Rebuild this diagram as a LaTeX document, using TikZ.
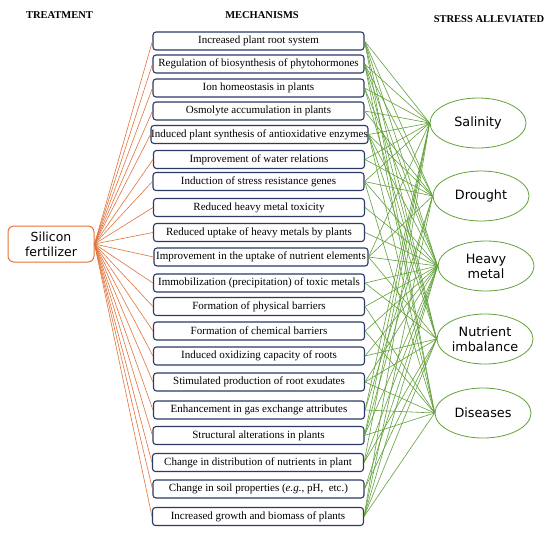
\documentclass[tikz,border=0pt]{standalone}
\usepackage{fontspec}
\setmainfont{Liberation Serif}
\newfontfamily\dejavu{DejaVu Sans}
\usetikzlibrary{shapes.geometric}
\definecolor{navy}{HTML}{2B3A67}
\definecolor{orng}{HTML}{E2733A}
\definecolor{grn}{HTML}{62A13A}
\begin{document}
\begin{tikzpicture}[x=1pt,y=-1pt,
  mech/.style={draw=navy, line width=1.1pt, rounded corners=3pt, minimum width=211pt,
    minimum height=18pt, inner sep=0pt, fill=white, font=\fontsize{11}{13}\selectfont},
  stress/.style={ellipse, draw=grn, line width=0.8pt, minimum width=96pt, minimum height=50pt,
    inner sep=0pt, align=center, font=\dejavu\fontsize{12.8}{15}\selectfont},
  treat/.style={draw=orng, line width=1pt, rounded corners=6pt, minimum width=86pt,
    minimum height=36pt, inner sep=0pt, align=center, font=\dejavu\fontsize{12.5}{15}\selectfont},
  head/.style={font=\bfseries\fontsize{10.5}{12}\selectfont},
  olink/.style={draw=orng, line width=0.6pt},
  glink/.style={draw=grn, line width=0.6pt}]
\useasboundingbox (0,0) rectangle (559,538);

\node[head] (h1) at (59.5,15) {TREATMENT};
\node[head] (h2) at (262,15) {MECHANISMS};
\node[head] (h3) at (489,19) {STRESS ALLEVIATED};

\node[treat] (sf) at (51,244) {Silicon\\fertilizer};

\node[mech] (m1) at (258.5,41) {Increased plant root system};
\node[mech] (m2) at (258.5,64) {Regulation of biosynthesis of phytohormones};
\node[mech] (m3) at (258.5,88) {Ion homeostasis in plants};
\node[mech] (m4) at (258.5,111) {Osmolyte accumulation in plants};
\node[mech, minimum width=217pt] (m5) at (259.5,134.5) {Induced plant synthesis of antioxidative enzymes};
\node[mech] (m6) at (259,159.5) {Improvement of water relations};
\node[mech] (m7) at (258.5,181.5) {Induction of stress resistance genes};
\node[mech] (m8) at (259,207.5) {Reduced heavy metal toxicity};
\node[mech] (m9) at (259,232.5) {Reduced uptake of heavy metals by plants};
\node[mech, minimum width=214pt] (m10) at (261,257) {Improvement in the uptake of nutrient elements};
\node[mech] (m11) at (259,283) {Immobilization (precipitation) of toxic metals};
\node[mech] (m12) at (259,306.5) {Formation of physical barriers};
\node[mech] (m13) at (259,331) {Formation of chemical barriers};
\node[mech] (m14) at (259,356) {Induced oxidizing capacity of roots};
\node[mech] (m15) at (259,382) {Stimulated production of root exudates};
\node[mech] (m16) at (259,410) {Enhancement in gas exchange attributes};
\node[mech] (m17) at (258.5,435.5) {Structural alterations in plants};
\node[mech] (m18) at (258,462.5) {Change in distribution of nutrients in plant};
\node[mech] (m19) at (258.5,489) {Change in soil properties (\textit{e.g.}, pH,\ \ etc.)};
\node[mech] (m20) at (258,516.5) {Increased growth and biomass of plants};

\node[stress] (s1) at (478,123) {Salinity};
\node[stress] (s2) at (481,196) {Drought};
\node[stress] (s3) at (486,266) {Heavy\\metal};
\node[stress] (s4) at (485,339) {Nutrient\\imbalance};
\node[stress] (s5) at (483,413) {Diseases};

\foreach \i in {1,...,20} \draw[olink] (sf.east) -- (m\i.west);

\foreach \m/\s in {1/1,1/2,1/3,1/4,1/5, 2/1,2/2,2/3,2/4,2/5, 3/1,3/3,3/4, 4/1,4/2,
  5/1,5/2,5/3,5/4,5/5, 6/1,6/2, 7/1,7/2,7/3,7/5, 8/3, 9/3, 10/1,10/2,10/3,10/4,
  11/3,11/4, 12/3,12/5, 13/3,13/5, 14/3,14/4, 15/3,15/4,15/5, 16/1,16/2,16/5,
  17/1,17/2,17/3,17/5, 18/1,18/3,18/4, 19/3,19/4, 20/1,20/2,20/3,20/4,20/5}
  \draw[glink] (m\m.east) -- (s\s.west);
\end{tikzpicture}
\end{document}
